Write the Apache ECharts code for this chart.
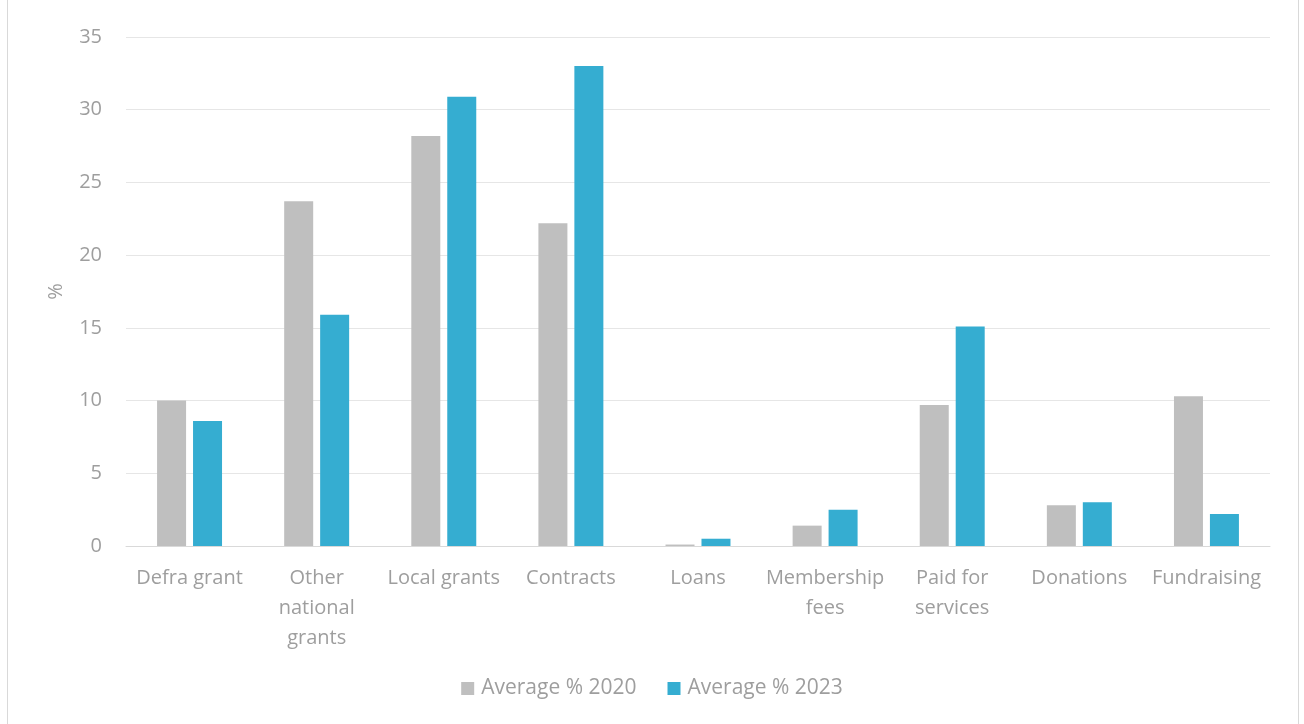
<!DOCTYPE html>
<html>
<head>
<meta charset="utf-8">
<script src="https://cdn.jsdelivr.net/npm/echarts@6/dist/echarts.min.js"></script>
<style>
  html, body { margin: 0; padding: 0; background: #ffffff; }
  #chart { width: 1304px; height: 724px; }
</style>
</head>
<body>
<div id="chart"></div>
<script>
// Income sources (wrapped as they appear under the axis)
const categories = [
  'Defra grant',
  'Other\nnational\ngrants',
  'Local grants',
  'Contracts',
  'Loans',
  'Membership\nfees',
  'Paid for\nservices',
  'Donations',
  'Fundraising'
];

// Average share of income, %
const avg2020 = [10.0, 23.7, 28.2, 22.2, 0.1, 1.4, 9.7, 2.8, 10.3];
const avg2023 = [8.6, 15.9, 30.9, 33.0, 0.5, 2.5, 15.1, 3.0, 2.2];

const seriesNames = ['Average % 2020', 'Average % 2023'];
const yTicks = { min: 0, max: 35, interval: 5 };

const FONT = '"Open Sans", "Liberation Sans", sans-serif';
const TEXT = '#9E9E9E';
const SIZE = 20;

const chart = echarts.init(document.getElementById('chart'), null, { renderer: 'canvas' });

chart.setOption({
  animation: false,
  backgroundColor: '#ffffff',
  textStyle: { fontFamily: FONT, color: TEXT },
  graphic: [{
    type: 'rect',
    shape: { x: 7.5, y: -2, width: 1291, height: 728 },
    style: { fill: 'none', stroke: '#D9D9D9', lineWidth: 1 },
    silent: true
  }],
  grid: { left: 126, right: 34, top: 37, bottom: 178 },
  legend: {
    bottom: 20,
    left: 'center',
    itemWidth: 13,
    itemHeight: 13,
    itemGap: 31,
    icon: 'rect',
    textStyle: { fontFamily: FONT, fontSize: 21, color: TEXT, padding: [0, 0, 0, 2] },
    data: seriesNames
  },
  xAxis: {
    type: 'category',
    data: categories,
    axisLine: { show: true, lineStyle: { color: '#D9D9D9', width: 1 } },
    axisTick: { show: false },
    axisLabel: {
      fontFamily: FONT, fontSize: SIZE, color: TEXT,
      margin: 17, lineHeight: 30, interval: 0
    }
  },
  yAxis: {
    type: 'value',
    min: yTicks.min, max: yTicks.max, interval: yTicks.interval,
    name: '%',
    nameLocation: 'middle',
    nameGap: 60,
    nameRotate: 90,
    nameTextStyle: { fontFamily: FONT, fontSize: SIZE, color: TEXT },
    axisLine: { show: false },
    axisTick: { show: false },
    axisLabel: { fontFamily: FONT, fontSize: SIZE, color: TEXT, margin: 24 },
    splitLine: { lineStyle: { color: '#E6E6E6', width: 1 } }
  },
  series: [
    {
      name: seriesNames[0],
      type: 'bar',
      data: avg2020,
      barWidth: 29,
      barGap: '24%',
      itemStyle: { color: '#BFBFBF' }
    },
    {
      name: seriesNames[1],
      type: 'bar',
      data: avg2023,
      barWidth: 29,
      barGap: '24%',
      itemStyle: { color: '#35ADD1' }
    }
  ]
});
</script>
</body>
</html>
